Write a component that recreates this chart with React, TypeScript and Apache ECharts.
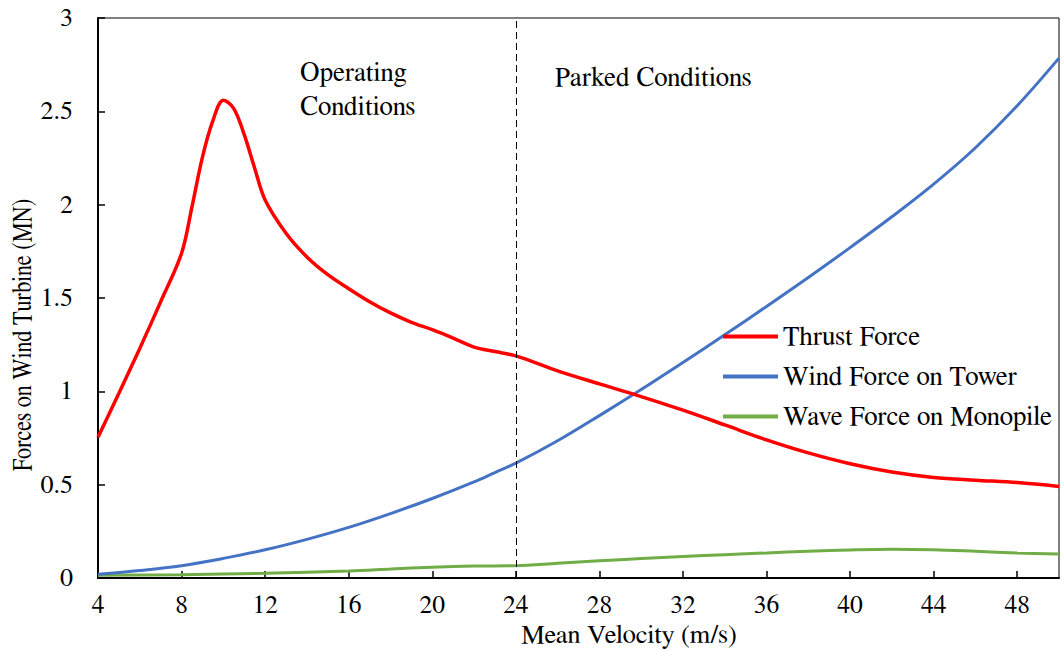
import React, { useEffect, useRef } from "react";
import * as echarts from "echarts";

const thrustVelocity = [4, 5, 6, 7, 8, 8.5, 9, 9.5, 10, 10.5, 11, 11.5, 12, 13, 14, 15, 16, 17, 18, 19, 20, 21, 22, 23, 24, 26, 28, 30, 32, 34, 36, 38, 40, 42, 44, 46, 48, 50];
const thrustForce = [0.754, 0.99, 1.23, 1.48, 1.74, 1.99, 2.255, 2.45, 2.56, 2.515, 2.375, 2.195, 2.025, 1.847, 1.72, 1.625, 1.55, 1.48, 1.42, 1.37, 1.33, 1.285, 1.237, 1.213, 1.19, 1.11, 1.04, 0.972, 0.899, 0.82, 0.74, 0.67, 0.612, 0.568, 0.539, 0.524, 0.511, 0.49];
const towerVelocity = [4, 6, 8, 10, 12, 14, 16, 18, 20, 22, 23, 24, 26, 28, 30, 32, 34, 36, 38, 40, 42, 44, 46, 48, 50];
const towerForce = [0.02, 0.04, 0.066, 0.105, 0.151, 0.207, 0.271, 0.345, 0.426, 0.515, 0.565, 0.615, 0.735, 0.87, 1.01, 1.155, 1.303, 1.455, 1.61, 1.77, 1.935, 2.11, 2.305, 2.53, 2.785];
const waveVelocity = [4, 8, 12, 16, 18, 20, 22, 24, 26, 28, 30, 32, 34, 36, 38, 40, 42, 44, 46, 48, 50];
const waveForce = [0.015, 0.018, 0.025, 0.038, 0.048, 0.058, 0.064, 0.066, 0.079, 0.092, 0.104, 0.115, 0.125, 0.134, 0.143, 0.15, 0.154, 0.151, 0.143, 0.134, 0.128];
const seriesNames = ["Thrust Force", "Wind Force on Tower", "Wave Force on Monopile"];
const seriesColors = ["#FF0000", "#4472C4", "#70AD47"];
const regionBoundary = 24;
const regionLabels = ["Operating\nConditions", "Parked Conditions"];
const xTitle = "Mean Velocity (m/s)";
const yTitle = "Forces on Wind Turbine (MN)";

const FONT = "FreeSerif, serif";

export default function App() {
  const ref = useRef<HTMLDivElement>(null);
  useEffect(() => {
    const chart = echarts.init(ref.current!, null, { renderer: "svg" });
    const xs = [thrustVelocity, towerVelocity, waveVelocity];
    const values = [thrustForce, towerForce, waveForce];
    chart.setOption({
      animation: false,
      backgroundColor: "#fff",
      grid: { left: 98, right: 5, top: 18, bottom: 73, show: true, borderColor: "#000", borderWidth: 1 },
      xAxis: {
        type: "value",
        min: 4,
        max: 50,
        interval: 4,
        axisLine: { show: true, onZero: false, lineStyle: { color: "#000", width: 2 } },
        axisTick: { show: true, inside: true, length: 7, lineStyle: { color: "#000", width: 1.5 } },
        axisLabel: { color: "#000", fontFamily: FONT, fontSize: 25.5, lineHeight: 20, margin: 17, showMaxLabel: false },
        splitLine: { show: false },
      },
      yAxis: {
        type: "value",
        min: 0,
        max: 3,
        interval: 0.5,
        axisLine: { show: true, lineStyle: { color: "#000", width: 2 } },
        axisTick: { show: true, inside: true, length: 7, lineStyle: { color: "#000", width: 1.5 } },
        axisLabel: { color: "#000", fontFamily: FONT, fontSize: 26, margin: 25 },
        splitLine: { show: false },
      },
      legend: {
        data: seriesNames,
        orient: "vertical",
        left: 723,
        top: 323,
        padding: 0,
        icon: "rect",
        itemWidth: 55,
        itemHeight: 4,
        itemGap: 13,
        textStyle: { color: "#000", fontFamily: FONT, fontSize: 27, lineHeight: 26 },
      },
      graphic: [
        {
          type: "text",
          x: 300,
          y: 55,
          style: { text: regionLabels[0], fontFamily: FONT, fontSize: 27, fill: "#000", lineHeight: 34, verticalAlign: "top", align: "left" },
        },
        {
          type: "text",
          x: 555,
          y: 77,
          style: { text: regionLabels[1], fontFamily: FONT, fontSize: 27, fill: "#000", verticalAlign: "middle", align: "left" },
        },
        {
          type: "text",
          x: 629,
          y: 635,
          style: { text: xTitle, fontFamily: FONT, fontSize: 26.5, fill: "#000", lineHeight: 20, verticalAlign: "middle", align: "center" },
        },
        {
          type: "text",
          x: 23,
          y: 335,
          rotation: Math.PI / 2,
          scaleX: 0.83,
          style: { text: yTitle, fontFamily: FONT, fontSize: 27, fill: "#000", verticalAlign: "middle", align: "center" },
        },
      ],
      series: seriesNames.map((name, k) => ({
        name,
        type: "line",
        data: xs[k].map((v, i) => [v, values[k][i]]),
        smooth: 0.35,
        showSymbol: false,
        symbol: "none",
        color: seriesColors[k],
        lineStyle: { color: seriesColors[k], width: k === 0 ? 3.5 : 3 },
        z: 3 - k,
        markLine:
          k === 0
            ? {
                silent: true,
                symbol: ["none", "none"],
                label: { show: false },
                lineStyle: { color: "#000", type: [7, 4], width: 1 },
                data: [{ xAxis: regionBoundary }],
              }
            : undefined,
      })),
    });
    return () => chart.dispose();
  }, []);
  return (
    <div
      ref={ref}
      style={{ position: "absolute", left: 0, top: 0, width: 1064, height: 651, background: "#fff" }}
    />
  );
}
